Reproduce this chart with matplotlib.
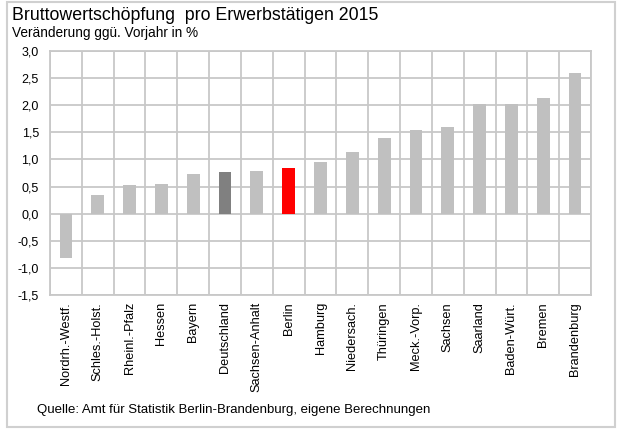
import matplotlib
matplotlib.use("Agg")
import matplotlib.pyplot as plt
from matplotlib.patches import Rectangle
from matplotlib.ticker import FuncFormatter, MultipleLocator

# -----------------------------
# DATA
# -----------------------------
laender = ["Nordrh.-Westf.", "Schles.-Holst.", "Rheinl.-Pfalz", "Hessen", "Bayern",
           "Deutschland", "Sachsen-Anhalt", "Berlin", "Hamburg", "Niedersach.",
           "Thüringen", "Meck.-Vorp.", "Sachsen", "Saarland", "Baden-Würt.",
           "Bremen", "Brandenburg"]
werte = [-0.82, 0.35, 0.52, 0.55, 0.73, 0.76, 0.78, 0.84, 0.96, 1.13,
         1.40, 1.54, 1.60, 2.03, 2.03, 2.13, 2.60]

TITLE = "Bruttowertschöpfung  pro Erwerbstätigen 2015"
SUBTITLE = "Veränderung ggü. Vorjahr in %"
SOURCE = "Quelle: Amt für Statistik Berlin-Brandenburg, eigene Berechnungen"

# -----------------------------
# COLORS
# -----------------------------
BAR_COLOR = "#c0c0c0"
DE_COLOR = "#808080"
BE_COLOR = "#ff0000"
GRID_COLOR = "#c8c8c8"

plt.rcParams['font.family'] = ['Liberation Sans', 'DejaVu Sans']

colors = []
for name in laender:
    if name == "Deutschland":
        colors.append(DE_COLOR)
    elif name == "Berlin":
        colors.append(BE_COLOR)
    else:
        colors.append(BAR_COLOR)

fig = plt.figure(figsize=(6.21, 4.30), dpi=100)
ax = fig.add_axes([50 / 621, 1 - 295 / 430, (591 - 50) / 621, (295 - 51) / 430])

x = range(len(laender))
ax.bar(x, werte, width=0.4, color=colors, zorder=3)

ax.set_xlim(-0.5, len(laender) - 0.5)
ax.set_ylim(-1.5, 3.0)
ax.yaxis.set_major_locator(MultipleLocator(0.5))
ax.yaxis.set_major_formatter(FuncFormatter(lambda v, p: f"{v:.1f}".replace(".", ",")))

ax.set_xticks(list(x))
ax.set_xticklabels(laender, rotation=90, fontsize=9.2)
ax.set_xticks([i + 0.5 for i in range(-1, len(laender))], minor=True)
ax.tick_params(axis='x', which='major', length=0, pad=5)
ax.tick_params(axis='x', which='minor', length=0)
ax.tick_params(axis='y', length=0, labelsize=9, pad=8)

ax.grid(True, axis='y', color=GRID_COLOR, linewidth=1.3, zorder=0)
ax.grid(True, axis='x', which='minor', color=GRID_COLOR, linewidth=1.3, zorder=0)
for side in ["top", "right", "left", "bottom"]:
    ax.spines[side].set_color(GRID_COLOR)
    ax.spines[side].set_linewidth(1.3)

# titles and source
fig.text(12 / 621, 1 - 15 / 430, TITLE, fontsize=12.8, va='center', ha='left')
fig.text(12 / 621, 1 - 33 / 430, SUBTITLE, fontsize=9.8, va='center', ha='left')
fig.text(37 / 621, 1 - 410 / 430, SOURCE, fontsize=9.5, va='center', ha='left')

# outer frame
fig.patches.append(Rectangle((7 / 621, 3 / 430), (615 - 7) / 621, (428 - 3) / 430,
                             transform=fig.transFigure, fill=False,
                             edgecolor="#d0d0d0", linewidth=1.5))

fig.savefig("out.png", dpi=100)
